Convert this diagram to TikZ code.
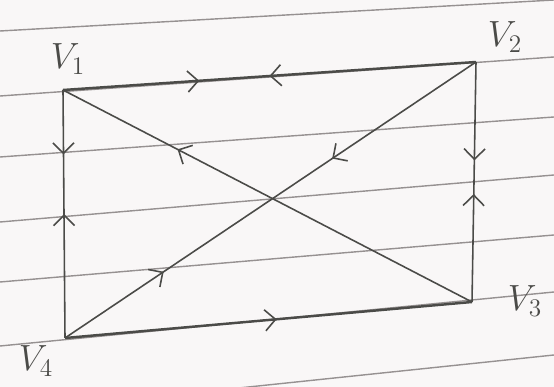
\documentclass[tikz,border=0pt]{standalone}
\usepackage{amsmath}
\usepackage{xcolor}
\usepackage{tikz}
\usetikzlibrary{arrows.meta,decorations.markings}
\definecolor{paper}{RGB}{249,247,247}
\definecolor{rule}{RGB}{150,145,145}
\definecolor{pencil}{RGB}{75,75,72}
\tikzset{
  ruled/.style={rule,line width=0.8pt},
  edge/.style={pencil,line width=0.9pt},
  heavy/.style={pencil,line width=1.4pt},
  vlab/.style={font=\huge,pencil,inner sep=1pt},
  fwd/.style={postaction={decorate,decoration={markings,
      mark=at position #1 with {\arrow{Straight Barb[length=6pt,width=12pt,line width=0.9pt]}}}}},
  bwd/.style={postaction={decorate,decoration={markings,
      mark=at position #1 with {\arrowreversed{Straight Barb[length=6pt,width=12pt,line width=0.9pt]}}}}}
}

\begin{document}
\begin{tikzpicture}

%─── Paper and ruled lines ──────────────────────────────────────────────────
\fill[paper] (0,0) rectangle (11.08,7.74);
\useasboundingbox (0,0) rectangle (11.08,7.74);
\begin{scope}
  \clip (0,0) rectangle (11.08,7.74);
  \foreach \ya/\yb in {7.12/7.74, 5.82/6.60, 4.60/5.40, 3.30/4.24,
                       2.10/3.04, 0.82/1.90, -0.52/0.64}
    \draw[ruled] (0,\ya) -- (11.08,\yb);
\end{scope}

%─── Vertices ───────────────────────────────────────────────────────────────
\coordinate (V1) at (1.26,5.94);
\coordinate (V2) at (9.52,6.50);
\coordinate (V3) at (9.44,1.70);
\coordinate (V4) at (1.30,0.98);

\node[vlab] (l1) at (1.36,6.56) {$V_1$};
\node[vlab] (l2) at (10.10,7.00) {$V_2$};
\node[vlab] (l3) at (10.50,1.72) {$V_3$};
\node[vlab] (l4) at (0.72,0.52) {$V_4$};

%─── Edges ──────────────────────────────────────────────────────────────────
\draw[heavy,fwd=0.33,bwd=0.50] (V1) -- (V2);
\draw[edge,fwd=0.26,bwd=0.50] (V1) -- (V4);
\draw[edge,fwd=0.41,bwd=0.55] (V2) -- (V3);
\draw[heavy,fwd=0.52] (V4) -- (V3);
\draw[edge,fwd=0.72] (V3) -- (V1);
\draw[edge,fwd=0.35,bwd=0.76] (V2) -- (V4);

\end{tikzpicture}
\end{document}
